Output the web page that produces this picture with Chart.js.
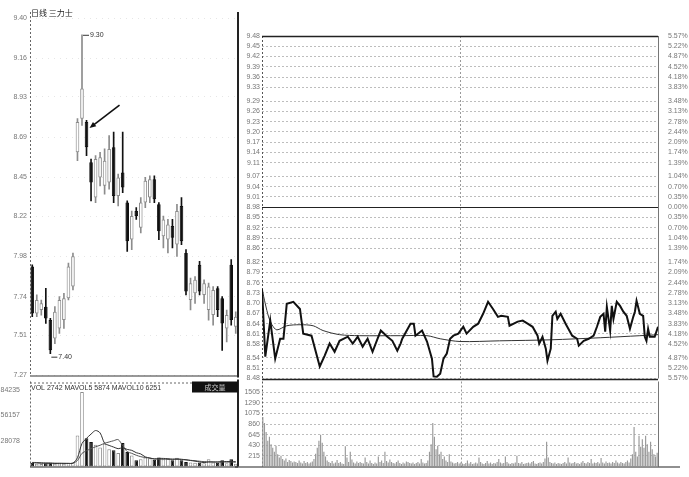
<!DOCTYPE html>
<html><head><meta charset="utf-8">
<script src="https://cdn.jsdelivr.net/npm/chart.js@4.4.1/dist/chart.umd.min.js"></script>
<style>
html,body{margin:0;padding:0;background:#fff;width:689px;height:477px;overflow:hidden;}
canvas{position:absolute;}
</style></head><body>
<canvas id="kline" width="241" height="374" style="left:0;top:8px"></canvas>
<canvas id="kvol" width="241" height="96" style="left:0;top:376px"></canvas>
<canvas id="tline" width="454" height="358" style="left:235px;top:26px"></canvas>
<canvas id="tvol" width="454" height="96" style="left:235px;top:376px"></canvas>
<script>
// ---------- DATA ----------
const stockTitle = "日线 三力士";
const dayOpen  = [7.92,7.64,7.66,7.68,7.60,7.49,7.55,7.60,7.73,7.80,8.60,8.80,8.78,8.54,8.33,8.45,8.40,8.42,8.63,8.34,8.48,8.30,8.08,8.25,8.15,8.30,8.33,8.44,8.29,8.10,8.08,8.16,8.05,8.28,8.00,7.72,7.76,7.93,7.75,7.66,7.63,7.79,7.73,7.55,7.93,7.56];
const dayHigh  = [7.93,7.75,7.72,7.79,7.61,7.68,7.74,7.76,7.94,8.00,8.80,9.30,8.79,8.56,8.58,8.60,8.62,8.70,8.72,8.47,8.72,8.31,8.25,8.27,8.33,8.45,8.46,8.46,8.30,8.22,8.20,8.20,8.29,8.33,8.02,7.85,7.86,7.95,7.84,7.82,7.80,7.80,7.74,7.66,7.96,7.65];
const dayLow   = [7.62,7.62,7.63,7.58,7.40,7.46,7.52,7.55,7.72,7.78,8.55,8.76,8.58,8.31,8.30,8.40,8.35,8.38,8.30,8.28,8.36,8.01,8.02,8.20,8.12,8.27,8.30,8.30,8.08,8.03,8.00,8.03,7.98,8.05,7.75,7.66,7.70,7.75,7.70,7.60,7.57,7.62,7.42,7.47,7.57,7.52];
const dayClose = [7.64,7.72,7.70,7.61,7.42,7.65,7.72,7.73,7.92,7.98,8.78,8.98,8.63,8.42,8.56,8.57,8.55,8.62,8.34,8.45,8.39,8.07,8.22,8.22,8.30,8.43,8.44,8.32,8.13,8.20,8.17,8.09,8.25,8.07,7.77,7.82,7.84,7.77,7.82,7.80,7.78,7.66,7.58,7.63,7.60,7.62];
const dayVolume = [4000,3000,2800,3500,4200,3000,3200,2900,3800,4500,34000,82000,31000,27000,24000,21000,25000,19000,18000,15000,26000,16000,12000,7000,8000,10000,9000,7500,10000,8000,8500,7000,9500,7000,5000,4500,4000,4500,3500,8000,4500,4000,7000,3500,8000,3000];
const dayMaVol5  = [4200,3900,3600,3500,3500,3300,3400,3400,3400,3700,9700,25400,31000,35700,39600,37000,25600,23200,21400,19600,20600,18800,17800,15200,13800,10600,9300,8300,8900,8900,8600,8200,8400,8000,7400,6600,5900,5100,4300,4900,4900,4900,5400,5400,5400,5100];
const dayMaVol10 = [4500,4400,4200,4000,3900,3700,3600,3500,3450,3600,6600,14500,17300,19700,21700,23400,25600,27000,28400,29600,23000,16400,14500,12400,10800,9900,9300,8400,8000,8000,7800,7600,7800,7600,7300,6800,6400,5800,5400,5300,5100,5000,5000,4900,5000,5000];
const dayPriceTicks = [7.27,7.51,7.74,7.98,8.22,8.45,8.69,8.93,9.16,9.40];
const dayVolTicks = [28078,56157,84235];
const volText = "VOL 2742 MAVOL5 5874 MAVOL10 6251";
const volTab = "成交量";

const prevClose = 8.98;
const priceTicks = [8.48,8.51,8.54,8.58,8.61,8.64,8.67,8.70,8.73,8.76,8.79,8.82,8.86,8.89,8.92,8.95,8.98,9.01,9.04,9.07,9.11,9.14,9.17,9.20,9.23,9.26,9.29,9.33,9.36,9.39,9.42,9.45,9.48];
const pctLabels = ["5.57%","5.22%","4.87%","4.52%","4.18%","3.83%","3.48%","3.13%","2.78%","2.44%","2.09%","1.74%","1.39%","1.04%","0.70%","0.35%","0.00%","0.35%","0.70%","1.04%","1.39%","1.74%","2.09%","2.44%","2.78%","3.13%","3.48%","3.83%","4.18%","4.52%","4.87%","5.22%","5.57%"];
// [minute, price]
const intradayPrice = [
[0,8.742],[2,8.544],[5,8.649],[8,8.538],[11,8.596],[13,8.596],[15,8.698],[19,8.704],[23,8.683],[25,8.611],
[30,8.605],[35,8.515],[38,8.547],[41,8.582],[44,8.558],[47,8.590],[52,8.602],[55,8.582],[58,8.602],[61,8.573],
[64,8.596],[67,8.558],[70,8.596],[72,8.620],[76,8.602],[79,8.590],[82,8.561],[84,8.582],[85,8.596],[90,8.640],
[92,8.640],[93,8.605],[97,8.620],[100,8.588],[103,8.538],[104,8.486],[106,8.485],[108,8.494],[110,8.538],[112,8.553],
[114,8.596],[116,8.605],[119,8.611],[122,8.631],[124,8.611],[128,8.631],[131,8.640],[134,8.669],[137,8.704],[140,8.683],
[143,8.660],[145,8.663],[149,8.660],[150,8.634],[155,8.646],[158,8.649],[161,8.640],[164,8.631],[167,8.605],[168,8.582],
[170,8.602],[172,8.567],[173,8.532],[175,8.567],[176,8.663],[178,8.675],[179,8.654],[181,8.669],[184,8.640],[185,8.631],
[188,8.605],[191,8.596],[192,8.576],[195,8.590],[198,8.596],[201,8.605],[203,8.631],[205,8.660],[207,8.669],[208,8.617],
[209,8.689],[211,8.620],[212,8.692],[213,8.654],[215,8.704],[217,8.692],[219,8.675],[221,8.663],[223,8.625],[225,8.660],
[226,8.675],[227,8.707],[229,8.669],[231,8.663],[232,8.602],[233,8.590],[234,8.625],[235,8.602],[238,8.602],[240,8.631]
];
const intradayAvg = [[0,8.742],[2,8.698],[4,8.660],[6,8.637],[9,8.622],[15,8.634],[23,8.637],[31,8.634],[37,8.620],[47,8.608],[59,8.605],[84,8.605],[100,8.605],[108,8.596],[120,8.588],[144,8.590],[175,8.593],[205,8.599],[229,8.605],[240,8.608]];
const intradayVolume = [
1000,880,700,520,600,450,380,300,420,250,
180,220,150,120,160,90,130,110,80,100,
90,70,120,80,60,110,70,90,60,80,
100,150,260,380,520,640,480,300,200,120,
90,70,110,60,80,130,70,90,60,50,
410,180,90,300,140,80,60,100,70,90,
70,60,180,90,60,120,70,50,80,60,
200,90,120,70,300,110,80,140,90,70,
60,90,120,70,50,80,60,100,90,70,
60,80,50,70,90,60,150,80,60,70,
120,300,450,880,600,350,420,250,300,150,
200,120,90,250,100,80,60,70,90,60,
80,60,50,70,120,60,90,50,60,80,
60,180,90,60,50,70,110,60,80,50,
70,60,90,150,80,60,70,200,90,60,
50,70,60,80,220,70,60,90,50,60,
70,80,60,90,110,60,50,70,80,60,
90,160,500,180,90,70,60,80,50,70,
60,50,70,90,60,180,80,60,70,90,
60,70,50,80,110,70,60,90,70,150,
60,80,70,90,60,170,80,60,100,70,
80,60,90,70,120,80,60,90,70,60,
90,120,80,160,250,800,300,200,620,400,
550,380,620,450,300,500,350,250,200,280];
const intradayVolTicks = [215,430,645,860,1075,1290,1505];

// ---------- SETUP ----------
Chart.defaults.font.family = '"Liberation Sans", "DejaVu Sans", sans-serif';
Chart.defaults.font.size = 7;
Chart.defaults.color = '#777';
const baseOpts = {responsive:false, animation:false, events:[], plugins:{legend:{display:false}, tooltip:{enabled:false}}};
const isUp = i => dayClose[i] >= dayOpen[i];
const dayIdx = dayOpen.map((_, i) => i);
function ln(ctx, x1, y1, x2, y2){ ctx.beginPath(); ctx.moveTo(x1,y1); ctx.lineTo(x2,y2); ctx.stroke(); }
const tickOpts = {padding:2, autoSkip:false, autoSkipPadding:0, color:'#777', font:{size:7, lineHeight:1}};

// ---------- DAILY CANDLES ----------
const klineDeco = {
  id:'klineDeco',
  afterDatasetsDraw(chart){
    const {ctx, chartArea:a, scales:{x,y}} = chart;
    ctx.save();
    ctx.strokeStyle = '#666'; ctx.lineWidth = 1; ctx.setLineDash([2,2]);
    ln(ctx, a.left+0.5, a.top-6, a.left+0.5, a.bottom);
    ctx.setLineDash([]);
    ctx.strokeStyle = '#222'; ctx.lineWidth = 2;
    ln(ctx, a.right, a.top-6, a.right, a.bottom+2);
    ctx.lineWidth = 1; ctx.strokeStyle='#333';
    ln(ctx, a.left, a.bottom+0.5, a.right, a.bottom+0.5);
    // title
    ctx.fillStyle = '#222'; ctx.font = '8px "Noto Sans CJK SC"'; ctx.textBaseline='middle'; ctx.textAlign='left';
    ctx.fillText(stockTitle, a.left+1, 5);
    // max / min markers
    let hi = 0, lo = 0;
    dayHigh.forEach((v,i)=>{ if(v>dayHigh[hi]) hi=i; });
    dayLow.forEach((v,i)=>{ if(v<dayLow[lo]) lo=i; });
    ctx.font = '7px "Liberation Sans"'; ctx.fillStyle='#333'; ctx.strokeStyle='#333'; ctx.lineWidth=1;
    let px = x.getPixelForValue(hi), py = y.getPixelForValue(dayHigh[hi]);
    ln(ctx, px+1, py+0.5, px+7, py+0.5); ctx.fillText(dayHigh[hi].toFixed(2), px+8, py);
    px = x.getPixelForValue(lo); py = y.getPixelForValue(dayLow[lo]) + 3;
    ln(ctx, px+1, py+0.5, px+7, py+0.5); ctx.fillText(dayLow[lo].toFixed(2), px+8, py);
    // arrow to the candle after the high
    const ai = hi + 1;
    const tx = x.getPixelForValue(ai) + 3, ty = y.getPixelForValue(dayOpen[ai]) + 6;
    const sx = tx + 30, sy = ty - 23;
    ctx.strokeStyle='#111'; ctx.fillStyle='#111'; ctx.lineWidth=1.6;
    const ang = Math.atan2(ty-sy, tx-sx);
    ln(ctx, sx, sy, tx - 4*Math.cos(ang), ty - 4*Math.sin(ang));
    ctx.beginPath(); ctx.moveTo(tx,ty);
    ctx.lineTo(tx - 7*Math.cos(ang-0.4), ty - 7*Math.sin(ang-0.4));
    ctx.lineTo(tx - 7*Math.cos(ang+0.4), ty - 7*Math.sin(ang+0.4));
    ctx.closePath(); ctx.fill();
    ctx.restore();
  }
};
new Chart(document.getElementById('kline'), {
  type:'bar',
  data:{labels: dayIdx, datasets:[
    {data: dayLow.map((l,i)=>[l, dayHigh[i]]), backgroundColor: dayIdx.map(i=>isUp(i)?'#8c8c8c':'#111'), barThickness:1, grouped:false, order:2},
    {data: dayOpen.map((o,i)=>[o, dayClose[i]]), backgroundColor: dayIdx.map(i=>isUp(i)?'#fff':'#111'),
     borderColor: dayIdx.map(i=>isUp(i)?'#8c8c8c':'#111'), borderWidth:1, borderSkipped:false, minBarLength:1,
     barPercentage:0.8, categoryPercentage:1, grouped:false, order:1}
  ]},
  options:{...baseOpts,
    layout:{padding:{top:10,bottom:4,left:0,right:3}},
    scales:{
      x:{display:false, offset:true},
      y:{min:7.27, max:9.40, afterFit:s=>{s.width=30;},
         afterBuildTicks:s=>{s.ticks = dayPriceTicks.map(v=>({value:v}));},
         ticks:{...tickOpts, callback:v=>v.toFixed(2), padding:3},
         grid:{color:'#e6e6e6', drawTicks:false}, border:{display:false, dash:[1,5]}}
    }},
  plugins:[klineDeco]
});

// ---------- DAILY VOLUME ----------
const kvolDeco = {
  id:'kvolDeco',
  afterDatasetsDraw(chart){
    const {ctx, chartArea:a} = chart;
    ctx.save();
    ctx.strokeStyle='#666'; ctx.lineWidth=1; ctx.setLineDash([2,2]);
    ln(ctx, a.left+0.5, a.top, a.left+0.5, a.bottom);
    ln(ctx, a.left, a.top+1.5, a.right, a.top+1.5);
    ctx.setLineDash([]);
    ctx.strokeStyle='#222'; ctx.lineWidth=2; ln(ctx, a.right, a.top-2, a.right, a.bottom);
    ctx.lineWidth=1.2; ln(ctx, a.left, a.bottom+0.5, a.right, a.bottom+0.5);
    ctx.fillStyle='#111'; ctx.fillRect(a.right-46, a.top, 46, 11);
    ctx.fillStyle='#ccc'; ctx.font='7px "Noto Sans CJK SC"'; ctx.textAlign='center'; ctx.textBaseline='middle';
    ctx.fillText(volTab, a.right-23, a.top+5.5);
    ctx.fillStyle='#333'; ctx.font='7px "Liberation Sans"'; ctx.textAlign='left';
    ctx.fillText(volText, a.left+1, a.top+7);
    ctx.restore();
  }
};
new Chart(document.getElementById('kvol'), {
  type:'bar',
  data:{labels: dayIdx, datasets:[
    {type:'line', data: dayMaVol5, borderColor:'#333', borderWidth:1, pointRadius:0, tension:0.3, order:0},
    {type:'line', data: dayMaVol10, borderColor:'#555', borderWidth:1, pointRadius:0, tension:0.3, order:0},
    {data: dayVolume, backgroundColor: dayIdx.map(i=>isUp(i)?'#fff':'#111'), borderColor: dayIdx.map(i=>isUp(i)?'#8c8c8c':'#111'),
     borderWidth:1, borderSkipped:false, barPercentage:0.8, categoryPercentage:1, order:1}
  ]},
  options:{...baseOpts,
    layout:{padding:{top:2,bottom:4,left:0,right:3}},
    scales:{
      x:{display:false, offset:true},
      y:{min:0, max:93600, afterFit:s=>{s.width=30;},
         afterBuildTicks:s=>{s.ticks = dayVolTicks.map(v=>({value:v}));},
         ticks:{...tickOpts, callback:v=>String(v)},
         grid:{display:false}, border:{display:false}}
    }},
  plugins:[kvolDeco]
});

// ---------- INTRADAY PRICE ----------
const tlineDeco = {
  id:'tlineDeco',
  beforeDatasetsDraw(chart){
    const {ctx, chartArea:a, scales:{x,y}} = chart;
    ctx.save();
    ctx.lineWidth=1; ctx.setLineDash([2,2]);
    ctx.strokeStyle='#999';
    const xm = Math.round(x.getPixelForValue(120))+0.5;
    ln(ctx, xm, a.top, xm, a.bottom);
    ctx.strokeStyle='#555';
    ln(ctx, a.left+0.5, a.top, a.left+0.5, a.bottom);
    ctx.setLineDash([]);
    ctx.strokeStyle='#777';
    ln(ctx, a.right+0.5, a.top, a.right+0.5, a.bottom);
    ctx.strokeStyle='#222'; ctx.lineWidth=1.5;
    const yt = Math.round(y.getPixelForValue(y.max)), yb = Math.round(y.getPixelForValue(y.min)), yc = Math.round(y.getPixelForValue(prevClose));
    ln(ctx, a.left, yt+0.5, a.right, yt+0.5);
    ln(ctx, a.left, yb+0.5, a.right, yb+0.5);
    ctx.lineWidth=1.2; ln(ctx, a.left, yc+0.5, a.right, yc+0.5);
    ctx.restore();
  }
};
new Chart(document.getElementById('tline'), {
  type:'line',
  data:{datasets:[
    {data: intradayPrice.map(p=>({x:p[0], y:p[1]})), borderColor:'#111', borderWidth:2, pointRadius:0, tension:0},
    {data: intradayAvg.map(p=>({x:p[0], y:p[1]})), borderColor:'#333', borderWidth:1, pointRadius:0, tension:0.3}
  ]},
  options:{...baseOpts,
    layout:{padding:{top:10,bottom:4,left:0,right:0}},
    scales:{
      x:{type:'linear', min:0, max:240, display:false},
      y:{position:'left', min:8.48, max:9.48, afterFit:s=>{s.width=27;},
         afterBuildTicks:s=>{s.ticks = priceTicks.map(v=>({value:v}));},
         ticks:{...tickOpts, callback:v=>v.toFixed(2)},
         grid:{color:'#bdbdbd', drawTicks:false}, border:{display:false, dash:[2,2]}},
      yp:{position:'right', min:8.48, max:9.48, afterFit:s=>{s.width=31;},
         afterBuildTicks:s=>{s.ticks = priceTicks.map(v=>({value:v}));},
         ticks:{...tickOpts, callback:(v,i)=>pctLabels[i]},
         grid:{display:false}, border:{display:false}}
    }},
  plugins:[tlineDeco]
});

// ---------- INTRADAY VOLUME ----------
const tvolDeco = {
  id:'tvolDeco',
  beforeDatasetsDraw(chart){
    const {ctx, chartArea:a, scales:{x}} = chart;
    ctx.save();
    ctx.lineWidth=1; ctx.setLineDash([2,2]);
    ctx.strokeStyle='#999';
    const xm = Math.round(x.getPixelForValue(120))+0.5;
    ln(ctx, xm, a.top, xm, a.bottom);
    ctx.strokeStyle='#555';
    ln(ctx, a.left+0.5, a.top, a.left+0.5, a.bottom);
    ctx.setLineDash([]);
    ctx.strokeStyle='#777';
    ln(ctx, a.right+0.5, a.top, a.right+0.5, a.bottom);
    ctx.strokeStyle='#222'; ctx.lineWidth=1.2;
    ln(ctx, 0, a.bottom+0.5, a.right+22, a.bottom+0.5);
    ctx.restore();
  }
};
new Chart(document.getElementById('tvol'), {
  type:'bar',
  data:{labels: intradayVolume.map((_,i)=>i), datasets:[
    {data: intradayVolume, backgroundColor:'#999', barPercentage:0.7, categoryPercentage:1}
  ]},
  options:{...baseOpts,
    layout:{padding:{top:4,bottom:4,left:0,right:31}},
    scales:{
      x:{display:false, offset:true},
      y:{min:0, max:1720, afterFit:s=>{s.width=27;},
         afterBuildTicks:s=>{s.ticks = intradayVolTicks.map(v=>({value:v}));},
         ticks:{...tickOpts, callback:v=>String(v)},
         grid:{color:'#bdbdbd', drawTicks:false}, border:{display:false, dash:[2,2]}}
    }},
  plugins:[tvolDeco]
});
</script>
</body></html>
